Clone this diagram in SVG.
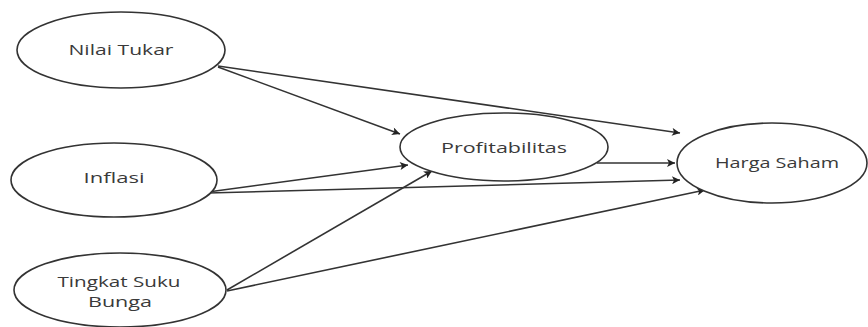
<svg xmlns="http://www.w3.org/2000/svg" width="868" height="327" viewBox="0 0 868 327">
<style>
.node ellipse{fill:#fff;stroke:#333;stroke-width:1.6}
.node text{font-family:"Open Sans","Noto Sans",sans-serif;font-size:15px;fill:#3a3a3a;text-anchor:middle}
.edges line{stroke:#333;stroke-width:1.6;marker-end:url(#ah)}
</style>
<defs>
<marker id="ah" viewBox="0 0 10 10" refX="10" refY="5" markerWidth="10" markerHeight="8" markerUnits="userSpaceOnUse" orient="auto">
<path d="M0,0 L10,5 L0,10 L2.5,5 Z" fill="#222"/>
</marker>
</defs>
<rect width="868" height="327" fill="#fff"/>
<g class="edges">
<line x1="218" y1="67" x2="400" y2="134"/>
<line x1="218" y1="66" x2="680" y2="133"/>
<line x1="208" y1="192" x2="408" y2="165"/>
<line x1="208" y1="193" x2="680" y2="180"/>
<line x1="597" y1="163" x2="675" y2="163"/>
<line x1="227" y1="290" x2="432" y2="171"/>
<line x1="227" y1="291" x2="705" y2="190"/>
</g>
<g id="nilai-tukar" class="node">
<ellipse cx="121" cy="50" rx="104" ry="38"/>
<text x="121" y="55" textLength="105" lengthAdjust="spacingAndGlyphs">Nilai Tukar</text>
</g>
<g id="inflasi" class="node">
<ellipse cx="114" cy="180" rx="103" ry="37"/>
<text x="114" y="183" textLength="61" lengthAdjust="spacingAndGlyphs">Inflasi</text>
</g>
<g id="tingkat-suku-bunga" class="node">
<ellipse cx="120" cy="290" rx="106" ry="37"/>
<text x="119" y="287" textLength="123" lengthAdjust="spacingAndGlyphs">Tingkat Suku</text>
<text x="120" y="307" textLength="64" lengthAdjust="spacingAndGlyphs">Bunga</text>
</g>
<g id="profitabilitas" class="node">
<ellipse cx="504" cy="147" rx="104" ry="34"/>
<text x="504" y="153" textLength="126" lengthAdjust="spacingAndGlyphs">Profitabilitas</text>
</g>
<g id="harga-saham" class="node">
<ellipse cx="772" cy="163" rx="95" ry="40"/>
<text x="777" y="168" textLength="124" lengthAdjust="spacingAndGlyphs">Harga Saham</text>
</g>
</svg>
